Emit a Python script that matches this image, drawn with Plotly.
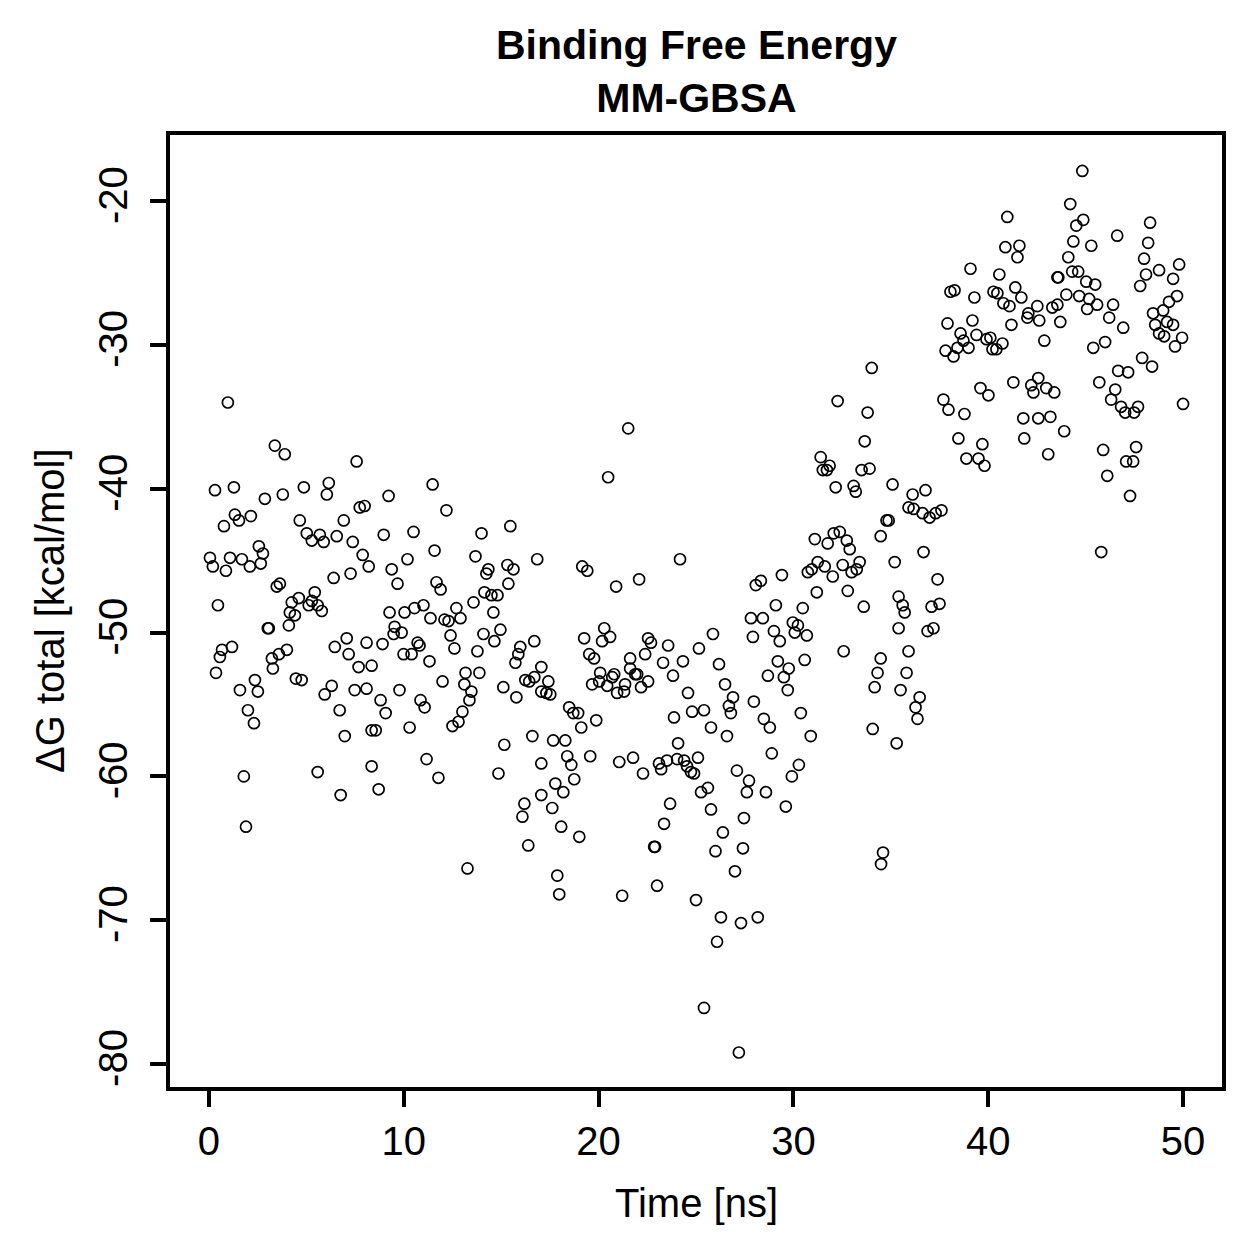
import plotly.graph_objects as go

# Time [ns] and binding free energy (ΔG total, kcal/mol)
time_ns = [
    0.97, 3.38, 3.89, 7.58, 0.31, 1.28, 2.87, 3.79, 4.87, 6.15, 6.05, 7.74, 7.99, 0.77, 1.33, 1.54, 2.15, 4.66, 6.92,
    5.02, 5.28, 5.69, 5.89, 6.56, 7.38, 7.89, 8.20, 0.05, 0.20, 0.87, 1.08, 1.69, 2.10, 2.56, 2.77, 2.66, 6.40, 7.27,
    3.48, 3.64, 0.46, 4.25, 4.61, 5.12, 5.43, 5.28, 5.58, 5.79, 4.15, 4.41, 4.10, 3.02, 3.07, 1.18, 0.67, 0.56, 0.36,
    3.23, 3.59, 4.00, 3.28, 7.07, 6.46, 7.17, 7.68, 8.09, 8.35, 4.46, 4.76, 2.36, 1.59, 2.51, 6.30, 5.94, 7.48, 8.09,
    2.00, 2.31, 6.71, 6.97, 8.35, 8.35, 1.79, 5.58, 6.76, 1.90,
    11.48, 9.22, 12.19, 8.97, 10.50, 13.99, 15.47, 9.38, 10.19, 9.68, 11.58, 11.68, 11.89, 13.68, 14.34, 14.24, 15.32,
    15.63, 16.85, 15.37, 14.14, 14.50, 14.81, 13.58, 9.27, 10.04, 10.55, 11.01, 11.37, 12.09, 12.30, 12.70, 12.91,
    14.60, 9.53, 9.48, 9.89, 12.40, 12.60, 14.09, 14.96, 14.65, 8.91, 10.71, 10.81, 10.40, 9.99, 11.32, 13.78, 15.98,
    15.88, 15.73, 16.70, 13.17, 13.88, 11.99, 13.11, 13.47, 13.37, 16.24, 16.44, 16.70, 17.06, 17.06, 15.11, 8.81,
    9.78, 10.86, 11.07, 9.07, 13.01, 12.81, 12.50, 15.78, 8.56, 10.30, 16.60, 15.16, 17.06, 11.17, 11.78, 14.86, 8.71,
    17.06, 16.19, 16.09, 16.39, 13.27,
    21.52, 20.49, 19.16, 19.42, 20.90, 22.08, 24.18, 19.26, 20.29, 20.59, 20.18, 19.52, 19.77, 17.42, 17.32, 17.52,
    20.08, 20.03, 19.67, 20.44, 20.80, 20.70, 20.95, 21.36, 21.31, 21.62, 21.62, 21.98, 21.88, 22.54, 22.18, 22.39,
    22.54, 22.69, 23.57, 23.31, 24.33, 23.82, 24.59, 25.15, 25.87, 18.49, 18.70, 18.95, 19.11, 19.88, 23.87, 24.80,
    25.41, 25.77, 17.67, 18.29, 24.08, 18.39, 18.60, 19.57, 21.06, 21.77, 22.28, 23.10, 23.21, 23.51, 24.03, 24.39,
    24.54, 24.74, 24.90, 25.10, 18.75, 17.78, 18.19, 17.62, 25.26, 25.61, 25.77, 23.67, 23.36, 18.08, 19.01, 22.85,
    22.90, 26.00, 17.88, 17.98, 21.21, 23.00, 25.00, 25.41,
    32.27, 33.81, 33.66, 31.40, 31.86, 31.51, 31.72, 32.17, 33.09, 33.20, 33.50, 33.91, 34.48, 31.10, 31.76, 32.07,
    32.38, 32.74, 32.89, 30.74, 30.94, 31.25, 31.61, 32.02, 32.53, 32.99, 33.25, 33.40, 31.20, 32.79, 33.61, 29.41,
    28.07, 28.33, 29.10, 30.48, 27.82, 28.43, 29.97, 30.23, 30.07, 30.69, 29.00, 29.30, 27.92, 32.58, 34.48, 34.32,
    34.17, 29.20, 29.76, 29.51, 28.69, 29.71, 30.58, 26.18, 26.49, 26.90, 26.69, 26.79, 27.97, 28.48, 30.38, 28.79,
    26.59, 28.89, 30.89, 34.07, 27.10, 27.72, 27.61, 28.59, 30.28, 29.92, 29.61, 27.46, 26.38, 27.41, 27.00, 34.60,
    34.50, 26.28, 27.31, 28.17, 26.08, 27.20,
    34.02, 41.29, 39.60, 40.01, 42.21, 42.32, 42.57, 37.70, 37.96, 38.78, 41.80, 42.57, 38.47, 39.70, 38.88, 39.50,
    39.81, 41.85, 35.09, 36.12, 36.78, 35.91, 36.17, 36.63, 36.99, 37.30, 37.60, 34.78, 34.89, 36.68, 35.20, 37.40,
    35.40, 35.61, 35.71, 37.09, 37.50, 35.40, 36.89, 37.19, 35.91, 35.81, 35.50, 36.48, 36.27, 36.37, 35.30,
    40.98, 40.88, 41.60, 41.50, 39.09, 40.57, 43.55, 43.60, 38.06, 38.27, 39.29, 40.27, 40.47, 41.39, 41.70, 40.78,
    41.09, 42.52, 42.06, 42.01, 42.62, 43.29, 43.55, 43.70, 37.91, 39.19, 41.19, 38.58, 38.73, 39.40, 39.91, 40.11,
    40.73, 38.42, 37.81, 38.22, 38.99, 40.22, 40.42, 42.88,
    44.83, 44.21, 44.52, 44.88, 44.37, 45.29, 46.62, 48.31, 48.21, 48.00, 49.80, 48.77, 48.10, 49.49, 47.80, 44.11,
    44.31, 44.62, 45.03, 45.49, 44.01, 44.67, 45.18, 45.08, 45.59, 46.41, 46.21, 46.93, 45.39, 46.00, 49.69, 49.28,
    48.46, 48.98, 48.57, 48.77, 49.03, 49.18, 49.49, 49.95, 49.59, 47.90, 48.41, 46.67, 47.18, 45.70, 46.52, 46.31,
    46.82, 47.03, 47.49, 47.69, 42.98, 43.39, 43.19, 43.90, 43.08, 50.00, 45.90, 47.59, 47.08, 47.44, 46.11, 47.28,
    45.80,
]

dg_total = [
    -34.0, -37.0, -37.6, -38.1, -40.1, -39.9, -40.7, -40.4, -39.9, -39.6, -40.4, -41.3, -41.2, -42.6, -41.8, -42.2,
    -41.9, -42.2, -42.2, -43.1, -43.6, -43.2, -43.7, -43.3, -43.7, -44.6, -45.4, -44.8, -45.4, -45.7, -44.8, -44.9,
    -45.4, -44.0, -44.5, -45.2, -46.2, -45.9, -46.8, -46.6, -48.1, -47.9, -47.6, -48.1, -47.2, -47.8, -48.1, -48.5,
    -48.6, -48.8, -49.5, -49.7, -49.7, -51.0, -51.2, -51.7, -52.8, -51.8, -51.5, -51.2, -52.5, -50.4, -51.0, -51.5,
    -52.4, -50.7, -52.3, -53.2, -53.3, -53.3, -54.0, -54.1, -53.7, -54.3, -54.0, -53.9, -55.4, -56.3, -55.4, -57.2,
    -56.8, -59.3, -60.0, -59.7, -61.3, -63.5,
    -39.7, -40.5, -41.5, -43.2, -43.0, -43.1, -42.6, -45.6, -44.9, -46.6, -44.3, -46.5, -47.0, -44.7, -45.6, -45.9,
    -45.3, -45.6, -44.9, -46.6, -47.2, -47.4, -47.4, -47.9, -48.6, -48.6, -48.3, -48.1, -49.0, -49.1, -49.2, -48.3,
    -49.0, -48.6, -49.6, -50.1, -50.0, -50.2, -51.1, -50.1, -49.8, -50.6, -50.8, -50.7, -50.9, -51.5, -51.5, -52.0,
    -51.3, -51.0, -51.5, -52.1, -50.6, -52.8, -52.8, -53.4, -53.6, -54.1, -54.7, -53.3, -53.4, -53.1, -52.4, -54.1,
    -53.8, -54.7, -54.0, -54.7, -55.2, -55.6, -55.5, -56.2, -56.5, -54.5, -56.8, -56.6, -57.2, -57.8, -59.1, -58.8,
    -60.1, -59.8, -60.9, -61.3, -61.9, -62.8, -64.8, -66.4,
    -35.8, -39.2, -45.4, -45.7, -46.8, -46.3, -44.9, -50.4, -49.7, -50.3, -50.6, -51.5, -51.8, -53.4, -54.2, -54.3,
    -52.8, -53.4, -53.6, -53.7, -52.9, -53.1, -54.2, -53.6, -54.1, -51.8, -52.5, -52.9, -52.9, -53.4, -53.8, -51.5,
    -50.4, -50.7, -50.9, -52.1, -52.0, -53.0, -54.2, -51.1, -50.1, -55.2, -55.6, -55.6, -56.6, -56.1, -55.9, -55.5,
    -55.4, -56.6, -57.5, -57.5, -57.7, -58.6, -59.2, -58.6, -59.0, -58.7, -59.8, -59.1, -59.5, -58.9, -58.8, -58.9,
    -59.3, -59.7, -59.8, -58.7, -60.2, -60.5, -61.1, -62.2, -61.1, -60.8, -62.3, -61.9, -63.3, -63.5, -64.2, -64.9,
    -64.9, -65.2, -66.9, -68.2, -68.3, -67.6, -68.6, -76.1,
    -33.9, -34.7, -36.7, -37.8, -38.4, -38.7, -38.7, -39.9, -39.8, -40.2, -38.7, -38.6, -43.3, -43.5, -43.8, -43.1,
    -43.0, -43.6, -44.2, -45.8, -45.6, -45.1, -45.4, -46.1, -45.3, -45.8, -45.6, -45.1, -47.2, -47.1, -48.2, -46.0,
    -46.7, -46.4, -48.1, -48.3, -49.0, -49.0, -49.3, -49.5, -50.0, -50.2, -49.9, -50.6, -50.3, -51.3, -51.8, -52.8,
    -53.8, -52.0, -52.5, -53.1, -53.0, -54.0, -51.9, -52.2, -53.6, -54.5, -55.1, -55.6, -54.8, -56.0, -55.6, -56.6,
    -57.2, -58.4, -57.2, -56.7, -59.6, -60.3, -61.1, -61.1, -59.2, -60.0, -62.1, -62.9, -63.9, -65.0, -66.6, -65.3,
    -66.1, -69.8, -70.2, -69.8, -71.5, -79.2,
    -31.6, -32.6, -33.0, -33.5, -32.8, -33.3, -32.3, -33.8, -34.5, -34.8, -35.1, -35.1, -36.5, -36.9, -37.9, -37.9,
    -38.4, -36.5, -39.7, -40.4, -40.1, -41.3, -41.4, -41.7, -42.0, -41.7, -41.5, -42.2, -42.2, -44.4, -45.1, -46.3,
    -47.5, -48.1, -48.6, -48.2, -48.0, -49.7, -49.9, -49.7, -51.3, -52.8, -54.0, -54.5, -55.2, -56.0, -57.7,
    -21.1, -23.2, -23.1, -23.9, -24.7, -25.1, -25.3, -25.3, -26.3, -26.2, -26.7, -26.3, -26.4, -26.0, -26.7, -27.1,
    -27.3, -27.3, -27.8, -28.1, -28.3, -27.4, -27.2, -28.4, -28.5, -28.3, -28.6, -29.2, -29.7, -29.3, -29.6, -29.5,
    -29.9, -30.2, -30.4, -30.8, -30.2, -30.3, -30.3, -29.7,
    -17.9, -20.2, -21.7, -21.3, -22.8, -23.1, -22.4, -21.5, -22.9, -24.0, -24.4, -24.8, -25.1, -25.4, -25.9, -23.9,
    -24.9, -24.9, -25.6, -25.8, -26.5, -26.6, -26.8, -27.5, -27.2, -27.2, -28.1, -28.8, -30.2, -29.8, -26.6, -27.0,
    -27.8, -27.6, -28.6, -29.2, -29.4, -28.4, -28.6, -29.5, -30.1, -30.9, -31.5, -31.8, -31.9, -32.6, -33.1, -33.8,
    -34.3, -34.7, -34.7, -34.3, -33.0, -33.3, -35.0, -36.0, -37.6, -34.1, -37.3, -37.1, -38.1, -38.1, -39.1, -40.5,
    -44.4,
]

x_ticks = [0, 10, 20, 30, 40, 50]
y_ticks = [-80, -70, -60, -50, -40, -30, -20]

title_text = "Binding Free Energy<br>MM-GBSA"
x_label = "Time [ns]"
y_label = "ΔG total [kcal/mol]"

FONT = "Liberation Sans, Arial, Helvetica, sans-serif"

fig = go.Figure()
fig.add_trace(go.Scatter(
    x=time_ns, y=dg_total, mode="markers",
    marker=dict(symbol="circle-open", size=11, color="black", line=dict(width=1.7, color="black")),
    showlegend=False, hoverinfo="skip",
))

axis_common = dict(
    showgrid=False, zeroline=False, showline=True, mirror=True,
    linecolor="black", linewidth=3.5,
    ticks="outside", ticklen=16, tickwidth=3.5, tickcolor="black",
    tickfont=dict(family=FONT, size=40, color="black"),
)

fig.update_layout(
    width=1259, height=1259,
    margin=dict(l=170, r=37, t=135, b=172, pad=0),
    paper_bgcolor="white", plot_bgcolor="white",
    xaxis=dict(range=[-2, 52], tickvals=x_ticks, ticktext=[str(v) for v in x_ticks], **axis_common),
    yaxis=dict(range=[-81.6, -15.4], tickvals=y_ticks, ticktext=[str(v) for v in y_ticks], tickangle=-90,
               ticklabelstandoff=7, **axis_common),
    annotations=[
        dict(text="<b>" + title_text.replace("<br>", "</b><br><b>") + "</b>", xref="paper", yref="paper",
             x=0.5, y=(1087 - 71) / 952, xanchor="center", yanchor="middle", showarrow=False,
             font=dict(family=FONT, size=41, color="black")),
        dict(text=x_label, xref="paper", yref="paper", x=0.5, y=(1087 - 1203) / 952,
             xanchor="center", yanchor="middle", showarrow=False,
             font=dict(family=FONT, size=40, color="black")),
        dict(text=y_label, xref="paper", yref="paper", x=(50 - 170) / 1052, y=0.5, textangle=-90,
             xanchor="center", yanchor="middle", showarrow=False,
             font=dict(family=FONT, size=40, color="black")),
    ],
)

fig.write_html("out.html")
